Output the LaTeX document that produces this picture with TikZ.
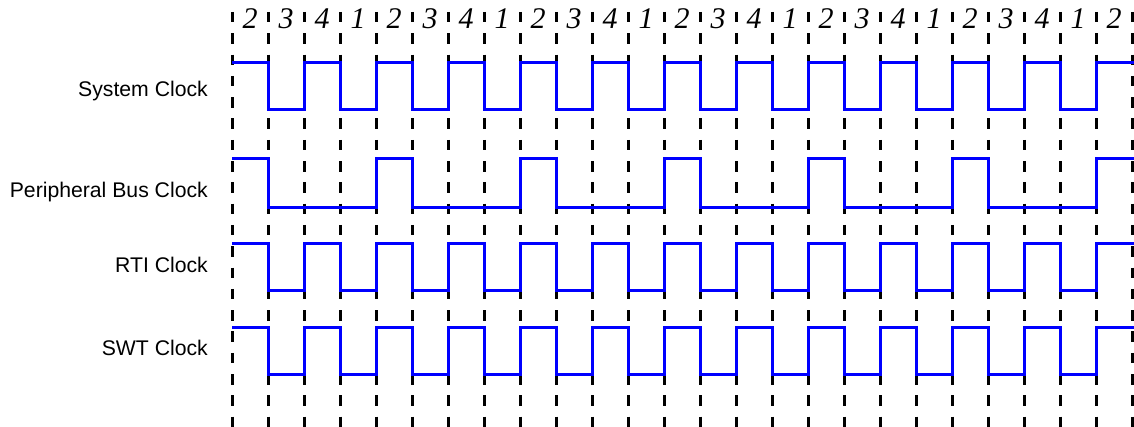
\documentclass[tikz,border=0pt]{standalone}
\usepackage{fontspec}
\setmainfont{Liberation Serif}
\setsansfont{Liberation Sans}
\begin{document}
\begin{tikzpicture}[x=1pt,y=-1pt,
  gridline/.style={line width=3pt, dash pattern=on 10.5pt off 10.8pt, black},
  sig/.style={line width=3pt, blue, line join=miter},
  lab/.style={font=\fontsize{21.2}{24}\selectfont\sffamily, anchor=base east, inner sep=0pt},
  num/.style={font=\fontsize{30}{32}\selectfont\itshape, anchor=base, inner sep=0pt}]
\useasboundingbox (0,0) rectangle (1134,427);
% dashed time grid
\foreach \k in {0,...,25} {
  \coordinate (gt\k) at (232+36*\k,12);
  \coordinate (gb\k) at (232+36*\k,427);
  \draw[gridline] (gt\k) -- (gb\k);
}
% phase numbers
\foreach \k in {0,...,24} {
  \pgfmathtruncatemacro{\ph}{mod(\k+1,4)+1}
  \node[num] (ph\k) at (250+36*\k,28.5) {\ph};
}
% labels
\node[lab] (lsys) at (208,97) {System Clock};
\node[lab] (lper) at (208,198) {Peripheral Bus Clock};
\node[lab] (lrti) at (208,273) {RTI Clock};
\node[lab] (lswt) at (208,355) {SWT Clock};
% System clock
\draw[sig] (232,62.5) foreach \j in {0,...,11} {
  -- (268+72*\j,62.5) -- (268+72*\j,110) -- (304+72*\j,110) -- (304+72*\j,62.5) } -- (1134,62.5);
% Peripheral bus clock
\draw[sig] (232,159) foreach \j in {0,...,5} {
  -- (268+144*\j,159) -- (268+144*\j,207.5) -- (376+144*\j,207.5) -- (376+144*\j,159) } -- (1134,159);
% RTI clock
\draw[sig] (232,243.3) foreach \j in {0,...,11} {
  -- (268+72*\j,243.3) -- (268+72*\j,291) -- (304+72*\j,291) -- (304+72*\j,243.3) } -- (1134,243.3);
% SWT clock
\draw[sig] (232,327.3) foreach \j in {0,...,11} {
  -- (268+72*\j,327.3) -- (268+72*\j,374.7) -- (304+72*\j,374.7) -- (304+72*\j,327.3) } -- (1134,327.3);
\end{tikzpicture}
\end{document}
